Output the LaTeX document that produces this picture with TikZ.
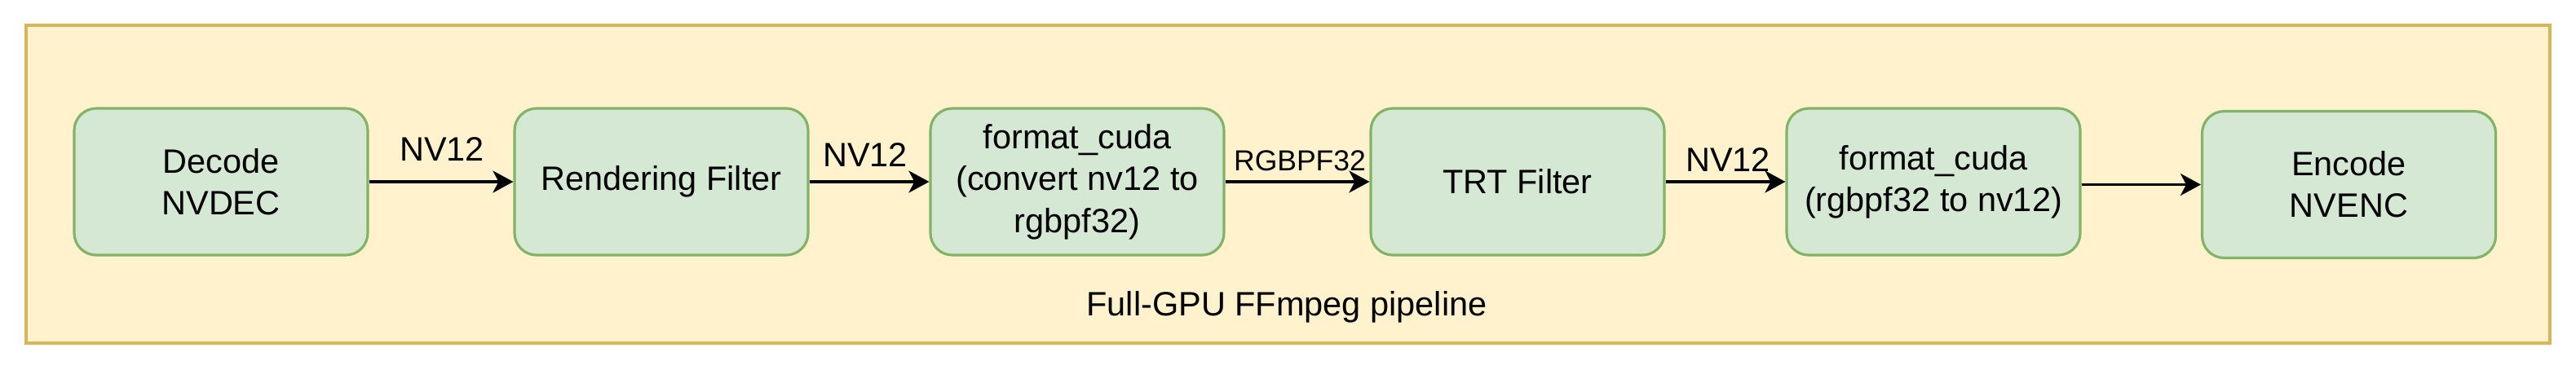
\documentclass[tikz,border=0pt]{standalone}
\usepackage{fontspec}
\setmainfont{Liberation Sans}
\usetikzlibrary{arrows.meta}
\definecolor{stagefill}{HTML}{D5E8D4}
\definecolor{stagedraw}{HTML}{82B366}
\definecolor{framefill}{HTML}{FFF2CC}
\definecolor{framedraw}{HTML}{D6B656}
\tikzset{stage/.style={
        draw=stagedraw, fill=stagefill, line width=0.9pt,
        rounded corners=0.27cm, minimum width=3.6cm, minimum height=1.8cm,
        align=center, font=\fontsize{11.8pt}{14.6pt}\selectfont
    },
    flow/.style={-{Stealth[length=0.25cm,width=0.27cm,inset=0.07cm]}, line width=0.9pt},
    lbl/.style={font=\fontsize{11.8pt}{14.6pt}\selectfont, inner sep=0pt}
}

\begin{document}
\begin{tikzpicture}
      \useasboundingbox (0,0) rectangle (31.59,-4.53);
      \draw[draw=framedraw, fill=framefill, line width=0.9pt] (0.32,-0.31) rectangle (31.27,-4.21);
      % nodes
      \node[stage] (decode) at (2.71,-2.23) {Decode\\NVDEC};
      \node[stage] (render) at (8.11,-2.23) {Rendering Filter};
      \node[stage] (tofloat) at (13.21,-2.23) {format\_cuda\\(convert nv12 to\\rgbpf32)};
      \node[stage] (trt) at (18.61,-2.23) {TRT Filter};
      \node[stage] (tonv) at (23.71,-2.23) {format\_cuda\\(rgbpf32 to nv12)};
      \node[stage] (encode) at (28.805,-2.265) {Encode\\NVENC};
      %edges
      \draw[flow] (decode) -- (render);
      \draw[flow] (render) -- (tofloat);
      \draw[flow] (tofloat) -- (trt);
      \draw[flow] (trt) -- (tonv);
      \draw[flow] (tonv.east |- encode.west) -- (encode.west);
      % labels
      \node[lbl] (nvA) at (5.42,-1.83) {NV12};
      \node[lbl] (nvB) at (10.61,-1.90) {NV12};
      \node[lbl, font=\fontsize{10.1pt}{12pt}\selectfont] (rgb) at (15.94,-1.97) {RGBPF32};
      \node[lbl] (nvC) at (21.19,-1.96) {NV12};
      \node[lbl] (title) at (15.78,-3.77) {Full-GPU FFmpeg pipeline};
\end{tikzpicture}
\end{document}
